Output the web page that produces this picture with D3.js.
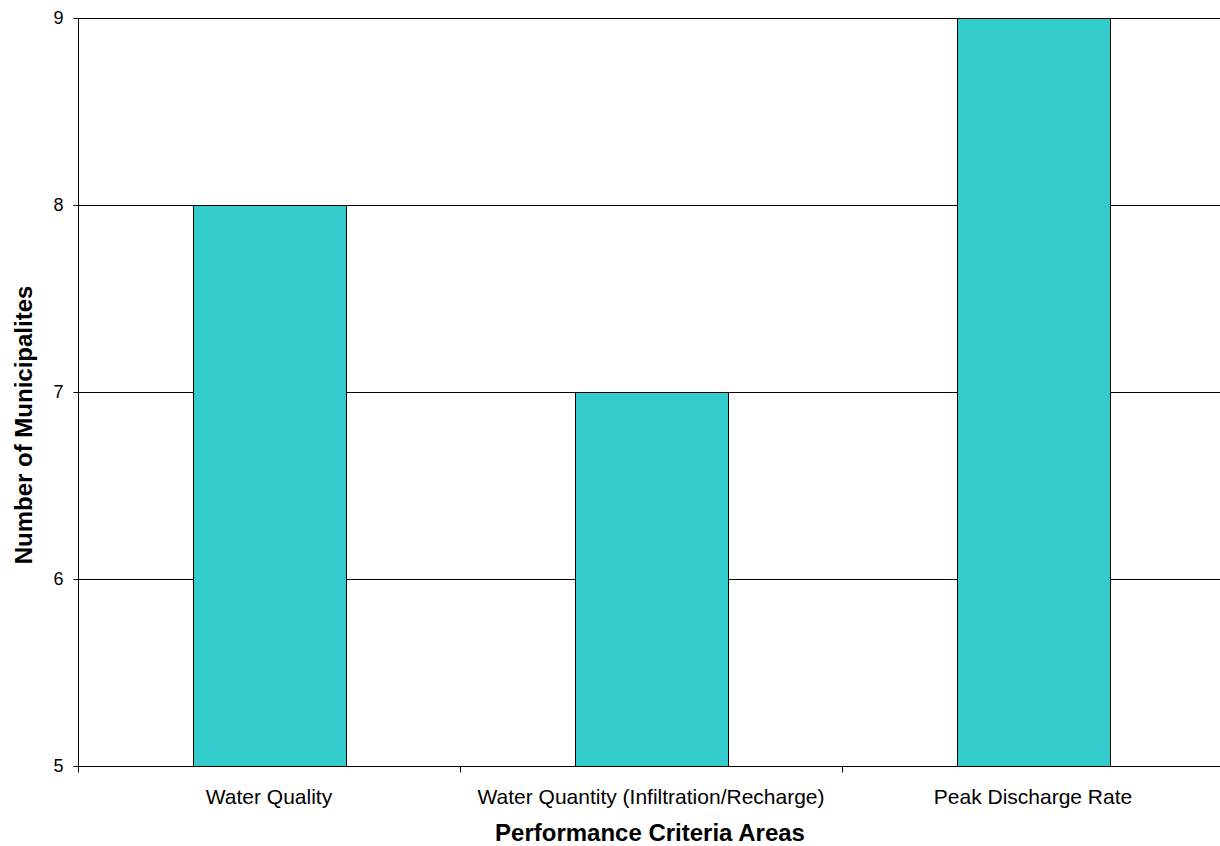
<!DOCTYPE html>
<html>
<head>
<meta charset="utf-8">
<script src="https://cdn.jsdelivr.net/npm/d3@7"></script>
<style>
  body { margin: 0; background: #fff; }
  svg { display: block; font-family: Arial, "Liberation Sans", sans-serif; }
</style>
</head>
<body>
<svg id="chart" width="1220" height="846"></svg>
<script>
// Municipalities addressing each performance criteria area
const categories = ["Water Quality", "Water Quantity (Infiltration/Recharge)", "Peak Discharge Rate"];
const counts = [8, 7, 9];
const yTicks = [5, 6, 7, 8, 9];

const svg = d3.select("#chart");
const margin = { left: 78, top: 18, right: -4, bottom: 80 };
const width = 1220, height = 846;
const x0 = margin.left, x1 = width - margin.right;
const y0 = height - margin.bottom, y1 = margin.top;

const x = d3.scaleBand().domain(categories).range([x0, x1]).paddingInner(0).paddingOuter(0);
const y = d3.scaleLinear().domain([5, 9]).range([y0, y1]);

// horizontal gridlines
svg.append("g")
  .selectAll("line")
  .data(yTicks.filter(t => t > 5))
  .join("line")
  .attr("x1", x0).attr("x2", x1)
  .attr("y1", d => Math.round(y(d)) + 0.5).attr("y2", d => Math.round(y(d)) + 0.5)
  .attr("stroke", "#000").attr("stroke-width", 1);

// bars
const barW = x.bandwidth() * 0.4;
svg.append("g")
  .selectAll("rect")
  .data(categories)
  .join("rect")
  .attr("x", (d) => Math.round(x(d) + (x.bandwidth() - barW) / 2) + 0.5)
  .attr("width", Math.round(barW))
  .attr("y", (d, i) => Math.round(y(counts[i])) + 0.5)
  .attr("height", (d, i) => Math.round(y0) - Math.round(y(counts[i])))
  .attr("fill", "#33CCCC")
  .attr("stroke", "#000")
  .attr("stroke-width", 1);

// y axis
const yAxis = svg.append("g")
  .attr("transform", `translate(${x0 + 0.5},0)`)
  .call(d3.axisLeft(y).tickValues(yTicks).tickFormat(d3.format("d")).tickSize(5).tickPadding(10));
yAxis.select(".domain").attr("stroke", "#000").attr("d", `M0,${y1}V${y0}`);
yAxis.selectAll(".tick line").attr("stroke", "#000");
yAxis.selectAll(".tick text").attr("font-size", 18).attr("fill", "#000")
  .attr("font-family", "Arial, 'Liberation Sans', sans-serif");

// x axis with ticks on band boundaries
const xAxis = svg.append("g")
  .attr("transform", `translate(0,${Math.round(y0) + 0.5})`);
xAxis.append("line")
  .attr("x1", x0).attr("x2", x1).attr("stroke", "#000");
const bounds = categories.map(c => x(c)).concat([x1]);
xAxis.selectAll("line.tk")
  .data(bounds)
  .join("line")
  .attr("class", "tk")
  .attr("x1", d => Math.round(d) + 0.5).attr("x2", d => Math.round(d) + 0.5)
  .attr("y1", 0).attr("y2", 6)
  .attr("stroke", "#000");
xAxis.selectAll("text")
  .data(categories)
  .join("text")
  .attr("x", d => x(d) + x.bandwidth() / 2)
  .attr("y", 37)
  .attr("text-anchor", "middle")
  .attr("font-size", 21)
  .text(d => d);

// axis titles
svg.append("text")
  .attr("x", 650).attr("y", 841)
  .attr("text-anchor", "middle")
  .attr("font-size", 24).attr("font-weight", "bold")
  .text("Performance Criteria Areas");

svg.append("text")
  .attr("transform", "translate(32,425) rotate(-90)")
  .attr("text-anchor", "middle")
  .attr("font-size", 24).attr("font-weight", "bold")
  .text("Number of Municipalites");
</script>
</body>
</html>
